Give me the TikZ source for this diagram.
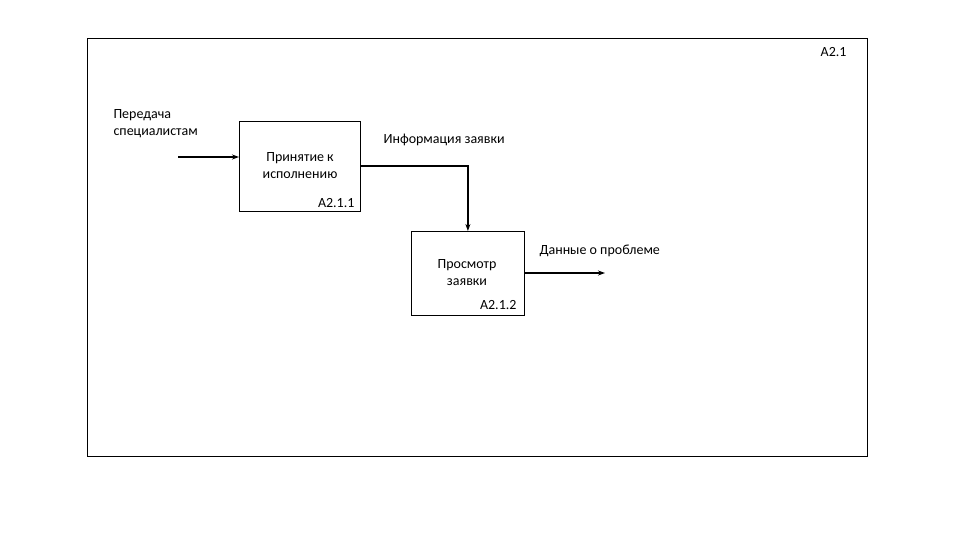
\documentclass[tikz,border=0pt]{standalone}
\usepackage{fontspec}
\setmainfont{Carlito}
\usetikzlibrary{arrows.meta}
\begin{document}
\begin{tikzpicture}[x=1pt,y=-1pt,
  box/.style={draw,line width=0.8pt,anchor=north west,inner sep=0pt},
  lbl/.style={font=\fontsize{14}{17}\selectfont,align=left},
  flow/.style={line width=1.2pt,-{Stealth[length=7pt,width=5pt]}}]
\useasboundingbox (0,0) rectangle (960,540);
\draw[line width=0.8pt] (87,38) rectangle (867,456);
\node[lbl,anchor=north east] (t) at (850,44) {A2.1};
\node[box,minimum width=121pt,minimum height=90pt] (b1) at (239,121) {};
\node[lbl,align=center] (b1t) at (300,166) {Принятие к\\исполнению};
\node[lbl,anchor=south east] (b1c) at (358,211) {A2.1.1};
\node[box,minimum width=113pt,minimum height=84pt] (b2) at (411,231) {};
\node[lbl,align=center] (b2t) at (467,273) {Просмотр\\заявки};
\node[lbl,anchor=south east] (b2c) at (520,313) {A2.1.2};
\node[lbl,anchor=north west] (l1) at (110,106) {Передача\\специалистам};
\node[lbl,anchor=west] (l2) at (380,140) {Информация заявки};
\node[lbl,anchor=west] (l3) at (536,251) {Данные о проблеме};
\coordinate (s1) at (178,157);
\coordinate (e3) at (605,273);
\draw[flow] (s1) -- (s1 -| b1.west);
\draw[flow] (b1.east |- 0,166) -| (b2.north);
\draw[flow] (b2.east |- 0,273) -- (e3);
\end{tikzpicture}
\end{document}
